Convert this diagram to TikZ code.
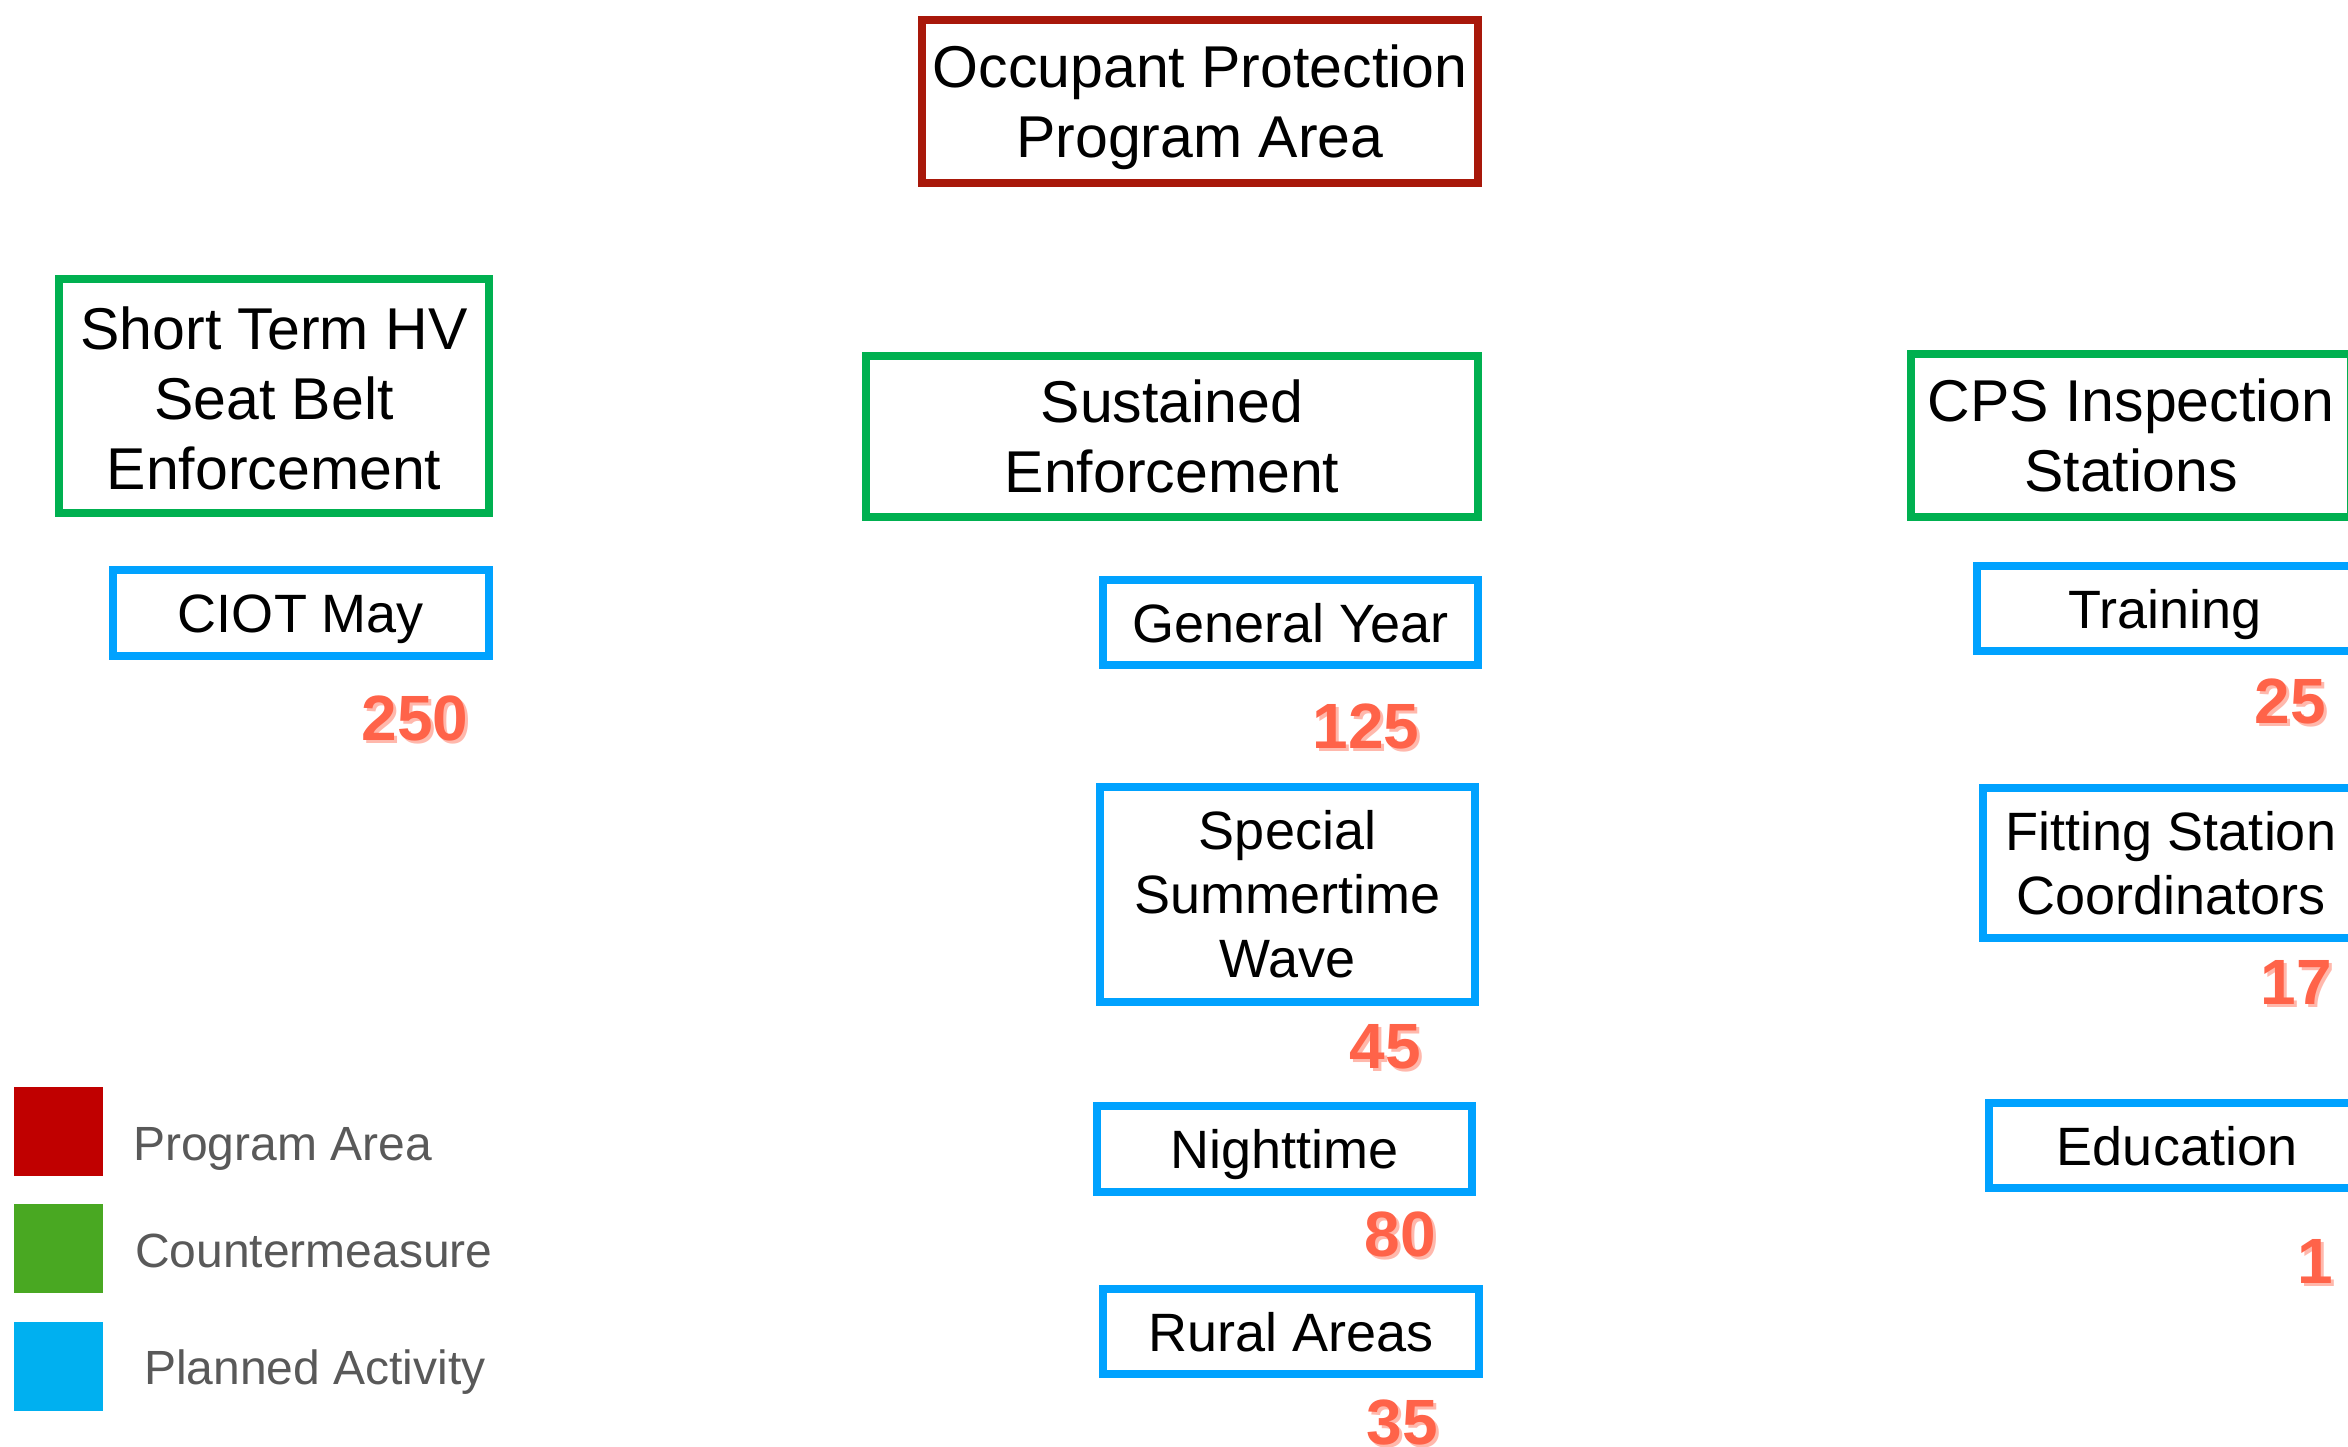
\documentclass[tikz,border=0pt]{standalone}
\usepackage{fontspec}
\setmainfont{Liberation Sans}
\definecolor{progred}{HTML}{A8180A}
\definecolor{cmgreen}{HTML}{00B050}
\definecolor{actblue}{HTML}{00A2FF}
\definecolor{legred}{HTML}{C00000}
\definecolor{leggreen}{HTML}{49A822}
\definecolor{legblue}{HTML}{00B0F0}
\definecolor{numred}{HTML}{FF6349}
\definecolor{numshadow}{HTML}{FFB8AC}
\definecolor{leggray}{HTML}{595959}
\tikzset{
  basebox/.style={draw, line width=8pt, fill=white, inner sep=0pt, align=center, text=black},
  progbox/.style={basebox, draw=progred, font=\fontsize{59}{70}\selectfont},
  cmbox/.style={basebox, draw=cmgreen, font=\fontsize{59}{70}\selectfont},
  actbox/.style={basebox, draw=actblue, font=\fontsize{54}{64}\selectfont},
  oneline/.style={text height=39pt, text depth=0pt},
  numtext/.style={inner sep=0pt, text=numred, font=\fontsize{64}{64}\selectfont\bfseries},
  numshade/.style={inner sep=0pt, text=numshadow, font=\fontsize{64}{64}\selectfont\bfseries},
  legsq/.style={inner sep=0pt, minimum width=89pt, minimum height=89pt},
  legtext/.style={inner sep=0pt, anchor=base west, text=leggray, font=\fontsize{48}{56}\selectfont},
}
\begin{document}
\begin{tikzpicture}[x=1pt, y=-1pt]
\useasboundingbox (0,0) rectangle (2348,1447);
\clip (0,0) rectangle (2348,1447);
\fill[white] (0,0) rectangle (2348,1447);

% Program area
\node[progbox, minimum width=556pt, minimum height=163pt] (prog) at (1200,101.5) {\rule{0pt}{55pt}Occupant Protection\\Program Area};

% Countermeasures
\node[cmbox, minimum width=430pt, minimum height=234pt] (short) at (274,396) {\rule{0pt}{47pt}Short Term HV\\Seat Belt\\Enforcement};
\node[cmbox, minimum width=612pt, minimum height=161pt] (sust) at (1172,436.5) {Sustained\\Enforcement};
\node[cmbox, minimum width=440pt, minimum height=163pt] (cps) at (2131,435.5) {CPS Inspection\\Stations};

% Planned activities
\node[actbox, oneline, minimum width=376pt, minimum height=86pt] (ciot) at (301,613) {CIOT May};
\node[actbox, oneline, minimum width=375pt, minimum height=85pt] (gen) at (1290.5,622.5) {General Year};
\node[actbox, minimum width=375pt, minimum height=215pt] (ssw) at (1287.5,894.5) {Special\\Summertime\\Wave};
\node[actbox, oneline, minimum width=375pt, minimum height=86pt] (night) at (1284.5,1149) {Nighttime};
\node[actbox, oneline, minimum width=376pt, minimum height=85pt] (rural) at (1291,1331.5) {Rural Areas};
\node[actbox, oneline, minimum width=376pt, minimum height=85pt] (train) at (2165,608.5) {Training};
\node[actbox, minimum width=376pt, minimum height=150pt] (fit) at (2171,863) {Fitting Station\\Coordinators};
\node[actbox, oneline, minimum width=376pt, minimum height=85pt] (edu) at (2177,1145.5) {Education};

% Numbers (shadow + main)
\node[numshade] (n250s) at (418,721) {250};
\node[numtext] (n250) at (415,718) {250};
\node[numshade] (n125s) at (1369,729) {125};
\node[numtext] (n125) at (1366,726) {125};
\node[numshade] (n45s) at (1388,1050) {45};
\node[numtext] (n45) at (1385,1047) {45};
\node[numshade] (n80s) at (1403,1237) {80};
\node[numtext] (n80) at (1400,1234) {80};
\node[numshade] (n35s) at (1405,1426) {35};
\node[numtext] (n35) at (1402,1423) {35};
\node[numshade] (n25s) at (2293,704) {25};
\node[numtext] (n25) at (2290,701) {25};
\node[numshade] (n17s) at (2299,985) {17};
\node[numtext] (n17) at (2296,982) {17};
\node[numshade] (n1s) at (2318,1264) {1};
\node[numtext] (n1) at (2315,1261) {1};

% Legend
\node[legsq, fill=legred] (lr) at (58.5,1131.5) {};
\node[legsq, fill=leggreen] (lg) at (58.5,1248.5) {};
\node[legsq, fill=legblue] (lb) at (58.5,1366.5) {};
\node[legtext] (ltr) at (133,1160) {Program Area};
\node[legtext] (ltg) at (135,1267) {Countermeasure};
\node[legtext] (ltb) at (144,1384) {Planned Activity};
\end{tikzpicture}
\end{document}
